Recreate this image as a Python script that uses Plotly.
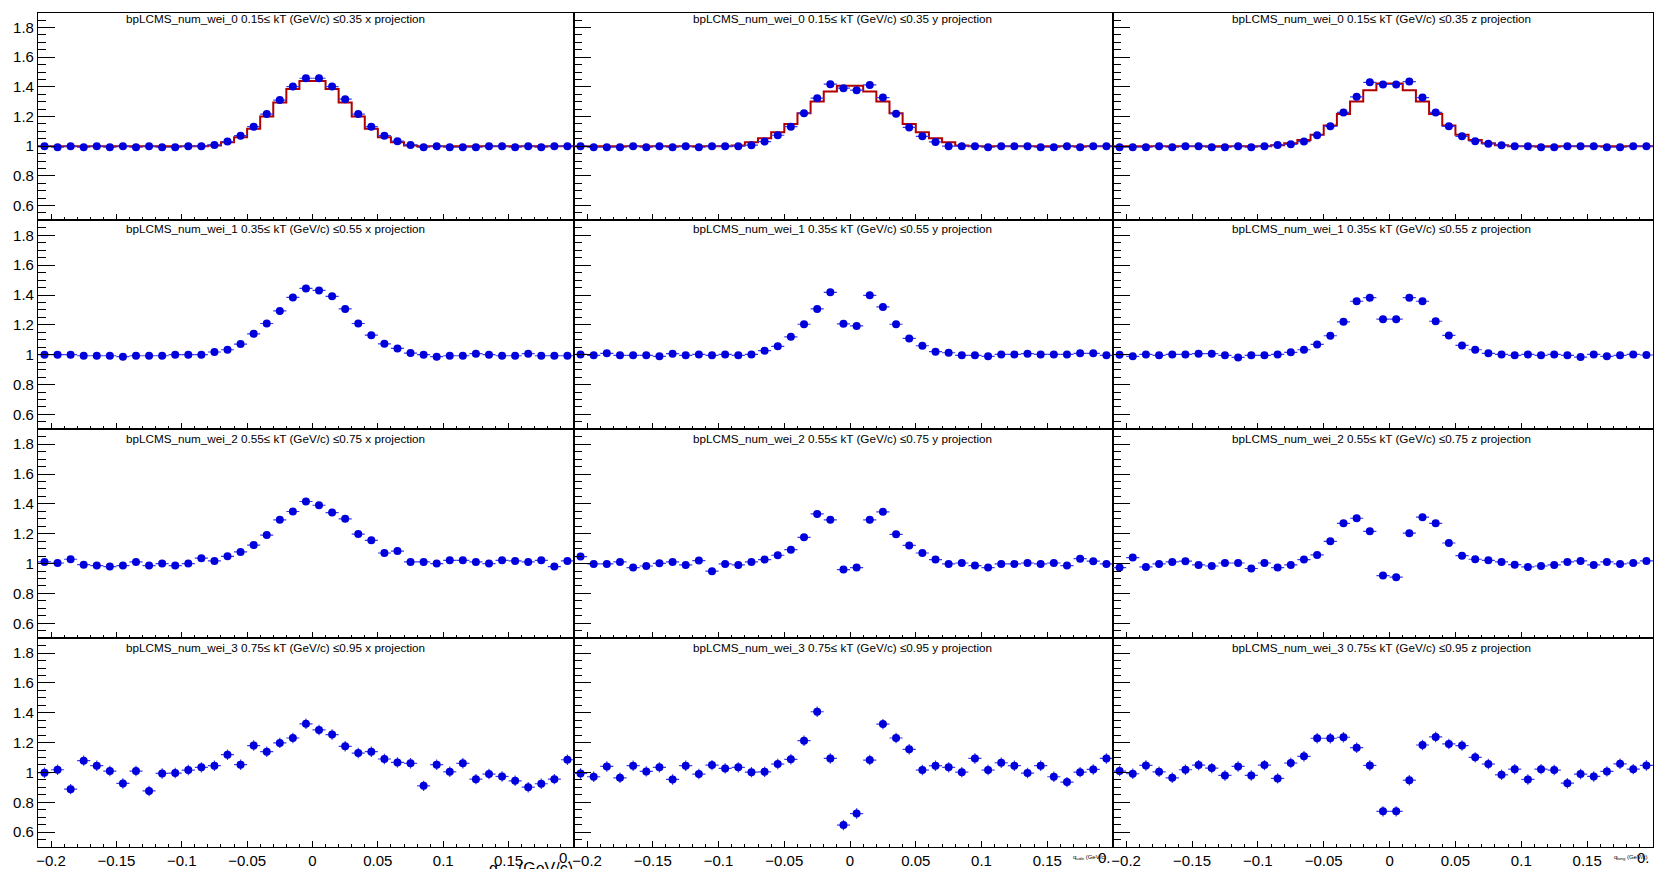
import plotly.graph_objects as go

# ---------------- data ----------------
Q_BINS = [-0.205, -0.195, -0.185, -0.175, -0.165, -0.155, -0.145, -0.135, -0.125, -0.115,
          -0.105, -0.095, -0.085, -0.075, -0.065, -0.055, -0.045, -0.035, -0.025, -0.015,
          -0.005, 0.005, 0.015, 0.025, 0.035, 0.045, 0.055, 0.065, 0.075, 0.085,
          0.095, 0.105, 0.115, 0.125, 0.135, 0.145, 0.155, 0.165, 0.175, 0.185, 0.195]
BIN_HALF_WIDTH = 0.005

KT_BINS = [("0", "0.15", "0.35"), ("1", "0.35", "0.55"), ("2", "0.55", "0.75"), ("3", "0.75", "0.95")]
PROJECTIONS = ["x", "y", "z"]
Q_NAMES = ["out", "side", "long"]

R1_X = [1.000, 0.993, 1.000, 0.993, 1.000, 0.993, 1.000, 0.993, 1.000, 0.993, 0.993, 1.000, 1.000, 1.009,
        1.031, 1.071, 1.132, 1.217, 1.311, 1.402, 1.458, 1.458, 1.402, 1.317, 1.217, 1.132, 1.071, 1.034,
        1.009, 0.993, 1.000, 0.993, 0.993, 0.993, 1.000, 1.000, 0.993, 1.000, 0.993, 1.000, 1.000]
R1_Y = [1.000, 0.993, 0.993, 0.993, 1.000, 0.993, 1.000, 0.993, 1.000, 0.993, 1.000, 1.000, 1.000, 1.007,
        1.031, 1.074, 1.132, 1.223, 1.324, 1.418, 1.391, 1.378, 1.413, 1.328, 1.219, 1.127, 1.067, 1.029,
        1.000, 1.000, 1.000, 0.993, 1.000, 1.000, 1.000, 0.993, 0.993, 1.000, 0.993, 1.000, 1.000]
R1_Z = [0.993, 0.993, 0.993, 1.000, 0.993, 1.000, 1.000, 0.993, 0.993, 1.000, 0.993, 1.000, 1.009, 1.013,
        1.031, 1.074, 1.134, 1.228, 1.333, 1.431, 1.416, 1.416, 1.436, 1.328, 1.228, 1.134, 1.067, 1.034,
        1.016, 1.007, 1.000, 1.000, 0.993, 0.993, 1.000, 1.000, 1.000, 0.993, 0.993, 1.000, 1.000]

R1_X_FIT = [1.0, 1.0, 1.0, 1.0, 1.0, 1.0, 1.0, 1.0, 1.0, 1.0, 1.0, 1.0, 1.0, 1.005,
            1.027, 1.06, 1.117, 1.2, 1.295, 1.385, 1.44, 1.44, 1.385, 1.295, 1.2, 1.117, 1.06, 1.027,
            1.005, 1.0, 1.0, 1.0, 1.0, 1.0, 1.0, 1.0, 1.0, 1.0, 1.0, 1.0, 1.0]
R1_Y_FIT = [1.0, 1.0, 1.0, 1.0, 1.0, 1.0, 1.0, 1.0, 1.0, 1.0, 1.0, 1.0, 1.005, 1.027,
            1.054, 1.094, 1.15, 1.223, 1.302, 1.369, 1.407, 1.407, 1.369, 1.302, 1.223, 1.15, 1.094, 1.054,
            1.027, 1.005, 1.0, 1.0, 1.0, 1.0, 1.0, 1.0, 1.0, 1.0, 1.0, 1.0, 1.0]
R1_Z_FIT = [1.0, 1.0, 1.0, 1.0, 1.0, 1.0, 1.0, 1.0, 1.0, 1.0, 1.0, 1.0, 1.007, 1.02,
            1.042, 1.078, 1.139, 1.217, 1.302, 1.378, 1.422, 1.422, 1.378, 1.302, 1.217, 1.139, 1.078, 1.042,
            1.02, 1.007, 1.0, 1.0, 1.0, 1.0, 1.0, 1.0, 1.0, 1.0, 1.0, 1.0, 1.0]

R2_X = [1.000, 1.000, 1.000, 0.993, 0.993, 0.993, 0.987, 0.993, 0.993, 0.993, 1.000, 1.000, 1.000, 1.018,
        1.033, 1.071, 1.140, 1.209, 1.293, 1.384, 1.444, 1.431, 1.391, 1.307, 1.209, 1.131, 1.073, 1.042,
        1.011, 1.000, 0.987, 0.993, 0.993, 1.007, 1.000, 0.993, 0.993, 1.007, 0.993, 0.993, 0.993]
R2_Y = [1.002, 0.996, 1.009, 0.996, 0.996, 0.996, 0.989, 1.007, 0.996, 1.002, 0.996, 1.002, 0.996, 1.002,
        1.027, 1.056, 1.120, 1.204, 1.307, 1.418, 1.207, 1.193, 1.398, 1.320, 1.204, 1.109, 1.060, 1.020,
        1.013, 0.996, 0.996, 0.989, 1.002, 1.002, 1.007, 1.002, 1.002, 1.002, 1.009, 1.009, 0.996]
R2_Z = [1.000, 0.989, 1.002, 0.996, 1.002, 1.002, 1.007, 1.007, 0.996, 0.982, 0.996, 0.996, 1.002, 1.016,
        1.033, 1.069, 1.127, 1.220, 1.358, 1.382, 1.238, 1.238, 1.382, 1.358, 1.224, 1.129, 1.062, 1.033,
        1.009, 1.002, 0.996, 1.002, 0.996, 1.002, 0.996, 0.984, 1.002, 0.989, 0.996, 1.002, 0.998]

R3_X = [1.011, 1.004, 1.029, 0.993, 0.987, 0.980, 0.987, 1.011, 0.987, 1.000, 0.987, 1.000, 1.036, 1.018,
        1.049, 1.078, 1.124, 1.191, 1.293, 1.349, 1.416, 1.391, 1.342, 1.300, 1.198, 1.156, 1.071, 1.084,
        1.011, 1.011, 1.000, 1.022, 1.022, 1.011, 1.000, 1.022, 1.018, 1.011, 1.022, 0.980, 1.018]
R3_Y = [1.047, 0.998, 0.998, 1.011, 0.973, 0.984, 1.002, 1.011, 0.991, 1.020, 0.949, 0.998, 0.991, 1.011,
        1.027, 1.056, 1.093, 1.176, 1.333, 1.293, 0.960, 0.973, 1.293, 1.347, 1.196, 1.122, 1.071, 1.027,
        0.998, 1.004, 0.987, 0.973, 0.998, 0.998, 1.004, 0.998, 1.004, 0.987, 1.033, 1.016, 0.998]
R3_Z = [0.973, 1.040, 0.978, 0.998, 1.011, 1.016, 0.991, 0.984, 1.004, 1.004, 0.967, 1.004, 0.973, 0.991,
        1.027, 1.058, 1.149, 1.270, 1.304, 1.216, 0.920, 0.909, 1.204, 1.311, 1.270, 1.138, 1.053, 1.029,
        1.022, 1.011, 0.993, 0.978, 0.984, 0.991, 1.011, 1.018, 0.991, 1.011, 0.998, 1.004, 1.018]

R4_X = [0.998, 1.018, 0.888, 1.079, 1.045, 1.009, 0.926, 1.009, 0.876, 0.993, 0.996, 1.016, 1.034, 1.045,
        1.119, 1.052, 1.180, 1.139, 1.198, 1.231, 1.326, 1.285, 1.254, 1.175, 1.130, 1.139, 1.090, 1.067,
        1.061, 0.910, 1.052, 1.004, 1.061, 0.955, 0.989, 0.973, 0.944, 0.901, 0.924, 0.955, 1.085]
R4_Y = [0.993, 0.971, 1.040, 0.964, 1.045, 1.007, 1.034, 0.953, 1.045, 0.989, 1.049, 1.027, 1.034, 1.002,
        1.004, 1.056, 1.088, 1.213, 1.407, 1.094, 0.647, 0.724, 1.083, 1.324, 1.231, 1.155, 1.016, 1.045,
        1.034, 1.002, 1.094, 1.016, 1.065, 1.045, 0.996, 1.045, 0.971, 0.935, 1.002, 1.020, 1.094]
R4_Z = [1.009, 0.991, 1.047, 1.004, 0.964, 1.018, 1.049, 1.029, 0.980, 1.040, 0.980, 1.049, 0.960, 1.063,
        1.108, 1.229, 1.229, 1.236, 1.166, 1.047, 0.739, 0.739, 0.948, 1.184, 1.238, 1.191, 1.180, 1.101,
        1.056, 0.984, 1.022, 0.953, 1.022, 1.016, 0.928, 0.989, 0.973, 1.007, 1.058, 1.022, 1.047]

ERR_BY_ROW = [0.005, 0.007, 0.012, 0.035]

Y_TICK_VALS = [0.6, 0.8, 1.0, 1.2, 1.4, 1.6, 1.8]
Y_TICK_TEXT = ["0.6", "0.8", "1", "1.2", "1.4", "1.6", "1.8"]
X_TICK_VALS = [-0.2, -0.15, -0.1, -0.05, 0.0, 0.05, 0.1, 0.15]
X_TICK_TEXT = ["\u22120.2", "\u22120.15", "\u22120.1", "\u22120.05", "0", "0.05", "0.1", "0.15"]
X_EDGE_LABEL = "0."

PANELS = [[R1_X, R1_Y, R1_Z], [R2_X, R2_Y, R2_Z], [R3_X, R3_Y, R3_Z], [R4_X, R4_Y, R4_Z]]
FITS = [R1_X_FIT, R1_Y_FIT, R1_Z_FIT]

# ---------------- layout geometry ----------------
W, H = 1654, 869
COL_PX = [36, 573, 1113, 1654]
ROW_PX = [12.7, 220.4, 429.3, 638.2, 847.0]
TITLE_X_PX = [274, 842, 1382]
TITLE_Y_PX = [19, 229, 438, 647]
FONT = "Liberation Sans, Arial, Helvetica, sans-serif"
BLUE = "#0000dd"
ERR_BLUE = "#3a3ae8"
RED = "#b00000"

fig = go.Figure()
annotations = []

for r in range(4):
    for c in range(3):
        k = r * 3 + c + 1
        xs = "x" if k == 1 else f"x{k}"
        ys = "y" if k == 1 else f"y{k}"
        xa = "xaxis" if k == 1 else f"xaxis{k}"
        ya = "yaxis" if k == 1 else f"yaxis{k}"

        if r == 0:
            fit = FITS[c]
            edges = [q - BIN_HALF_WIDTH for q in Q_BINS] + [Q_BINS[-1] + BIN_HALF_WIDTH]
            fig.add_trace(go.Scatter(
                x=edges, y=fit + [fit[-1]], mode="lines",
                line=dict(color=RED, width=2, shape="hv"),
                xaxis=xs, yaxis=ys, showlegend=False, hoverinfo="skip"))

        vals = PANELS[r][c]
        fig.add_trace(go.Scatter(
            x=Q_BINS, y=vals, mode="markers",
            marker=dict(size=8, color=BLUE, line=dict(width=0)),
            error_x=dict(type="constant", value=BIN_HALF_WIDTH, width=0, thickness=1.2, color=ERR_BLUE),
            error_y=dict(type="constant", value=ERR_BY_ROW[r], width=0, thickness=1.2, color=ERR_BLUE),
            xaxis=xs, yaxis=ys, showlegend=False))

        fig.layout[xa] = dict(
            domain=[COL_PX[c] / W, COL_PX[c + 1] / W], anchor=ys,
            range=[-0.21, 0.2], showgrid=False, zeroline=False,
            showline=True, mirror=True, linecolor="black", linewidth=1,
            ticks="inside", ticklen=6, tickwidth=1, tickcolor="black",
            tickmode="array", tickvals=X_TICK_VALS, ticktext=X_TICK_TEXT,
            showticklabels=(r == 3),
            tickfont=dict(family=FONT, size=15, color="black"),
            minor=dict(ticks="inside", ticklen=3, tickwidth=1, tickcolor="black",
                       tickmode="linear", tick0=0, dtick=0.01, showgrid=False),
        )
        fig.layout[ya] = dict(
            domain=[1 - ROW_PX[r + 1] / H, 1 - ROW_PX[r] / H], anchor=xs,
            range=[0.5, 1.9], showgrid=False, zeroline=False,
            showline=True, mirror=True, linecolor="black", linewidth=1,
            ticks="inside", ticklen=17, tickwidth=1, tickcolor="black",
            tickmode="array", tickvals=Y_TICK_VALS, ticktext=Y_TICK_TEXT,
            showticklabels=(c == 0),
            tickfont=dict(family=FONT, size=15, color="black"),
            minor=dict(ticks="inside", ticklen=8.5, tickwidth=1, tickcolor="black",
                       tickmode="linear", tick0=0, dtick=0.05, showgrid=False),
        )

        idx, lo, hi = KT_BINS[r]
        title = f"bpLCMS_num_wei_{idx} {lo}\u2264 kT (GeV/c) \u2264{hi} {PROJECTIONS[c]} projection"
        annotations.append(dict(
            text=title, xref="paper", yref="paper",
            x=TITLE_X_PX[c] / W, y=1 - TITLE_Y_PX[r] / H,
            xanchor="center", yanchor="middle", showarrow=False,
            font=dict(family=FONT, size=11.7, color="black")))

# truncated "0.2" labels at the right end of each column
for c in range(3):
    right_px = COL_PX[c + 1] - (1 if c < 2 else 2)
    annotations.append(dict(
        text=X_EDGE_LABEL, xref="paper", yref="paper",
        x=right_px / W, y=1 - 857 / H, xanchor="right", yanchor="middle",
        showarrow=False, borderpad=0, font=dict(family=FONT, size=15, color="black")))

# axis titles
annotations.append(dict(
    text=f"q<sub>{Q_NAMES[0]}</sub> (GeV/c)", xref="paper", yref="paper",
    x=573 / W, y=1 - 859 / H, xanchor="right", yanchor="top", showarrow=False, borderpad=0,
    font=dict(family=FONT, size=16, color="black")))
annotations.append(dict(
    text=f"q<sub>{Q_NAMES[1]}</sub> (GeV/c)", xref="paper", yref="paper",
    x=1107 / W, y=1 - 857 / H, xanchor="right", yanchor="middle", showarrow=False, borderpad=0,
    font=dict(family=FONT, size=6, color="black")))
annotations.append(dict(
    text=f"q<sub>{Q_NAMES[2]}</sub> (GeV/c)", xref="paper", yref="paper",
    x=1650 / W, y=1 - 857 / H, xanchor="right", yanchor="middle", showarrow=False, borderpad=0,
    font=dict(family=FONT, size=6, color="black")))

fig.update_layout(
    width=W, height=H, autosize=False,
    margin=dict(l=0, r=0, t=0, b=0, pad=0),
    paper_bgcolor="white", plot_bgcolor="white",
    showlegend=False, annotations=annotations,
    font=dict(family=FONT, color="black"),
)

fig.write_html("out.html")
